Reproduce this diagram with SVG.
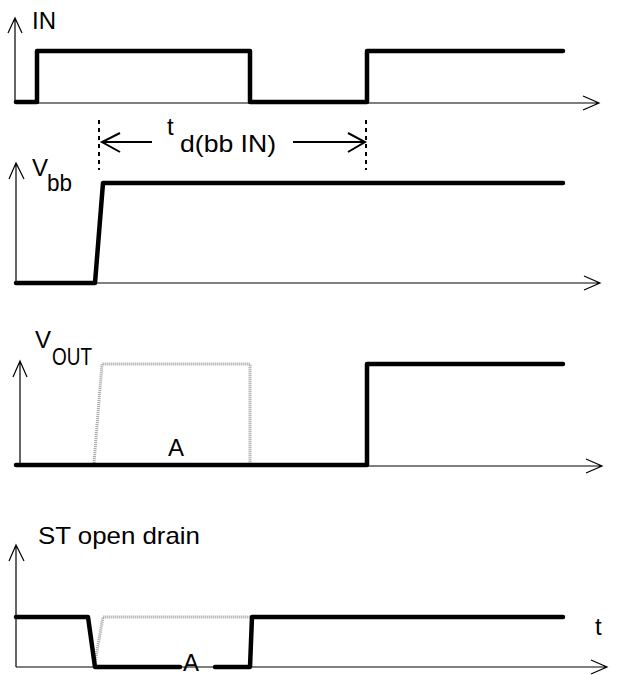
<svg xmlns="http://www.w3.org/2000/svg" width="627" height="675" viewBox="0 0 627 675">
<style>
  .axis{fill:none;stroke:#000;stroke-width:1.2}
  .sig{fill:none;stroke:#000;stroke-width:4.5;stroke-linecap:round;stroke-linejoin:round}
  .ghost{fill:none;stroke:#a0a0a0;stroke-width:3;stroke-dasharray:1 1}
  .mark{fill:none;stroke:#000;stroke-width:2;stroke-dasharray:4 4}
  .dim{fill:none;stroke:#000;stroke-width:2}
  text{font-family:"Liberation Sans",Arial,sans-serif;fill:#000;font-size:24px}
</style>
<rect width="627" height="675" fill="#fff"/>
<g id="panel-in">
  <path class="axis" d="M15,103 V18 M8,33 L15,18 L22,33 M15,103 H599 M583,96 L599,103 L583,110"/>
  <text x="32" y="29" textLength="24" lengthAdjust="spacingAndGlyphs">IN</text>
  <path class="sig" d="M16,102 H37 V51 H250 V102 H367 V51 H563"/>
</g>
<g id="panel-vbb">
  <path class="axis" d="M16,283 V163 M9,179 L16,163 L24,179 M16,283 H600 M584,276 L600,283 L584,290"/>
  <text x="32" y="176">V</text>
  <text x="47" y="191" textLength="25" lengthAdjust="spacingAndGlyphs">bb</text>
  <path class="sig" d="M16,283 H95 L103,183 H563"/>
</g>
<g id="panel-vout">
  <path class="axis" d="M20,466 V361 M13,377 L20,361 L27,377 M20,466 H602 M586,459 L602,466 L586,473"/>
  <text x="35" y="348">V</text>
  <text x="52" y="365" textLength="40" lengthAdjust="spacingAndGlyphs">OUT</text>
  <path class="ghost" d="M94,463 L102,364 H250 V463"/>
  <path class="sig" d="M16,465 H367 V364 H563"/>
  <text x="168" y="456">A</text>
</g>
<g id="panel-st">
  <path class="axis" d="M16,667 V545 M9,561 L16,545 L24,561 M16,667 H607 M591,660 L607,667 L591,674"/>
  <text x="38" y="544" textLength="162" lengthAdjust="spacingAndGlyphs">ST open drain</text>
  <path class="ghost" d="M95,662 L103,617 H250"/>
  <path class="sig" d="M16,617 H88 L95,667 H180 M215,667 H250 L252,617 H563"/>
  <text x="183" y="671">A</text>
  <text x="595" y="635">t</text>
</g>
<g id="connectors">
  <path class="mark" d="M99,120 V170"/>
  <path class="mark" d="M366,120 V170"/>
  <path class="dim" d="M102,142 H152 M120,133 L102,142 L120,152"/>
  <path class="dim" d="M293,142 H365 M348,133 L365,142 L348,152"/>
  <text x="167" y="135">t</text>
  <text x="180" y="152" textLength="96" lengthAdjust="spacingAndGlyphs">d(bb IN)</text>
</g>
</svg>
